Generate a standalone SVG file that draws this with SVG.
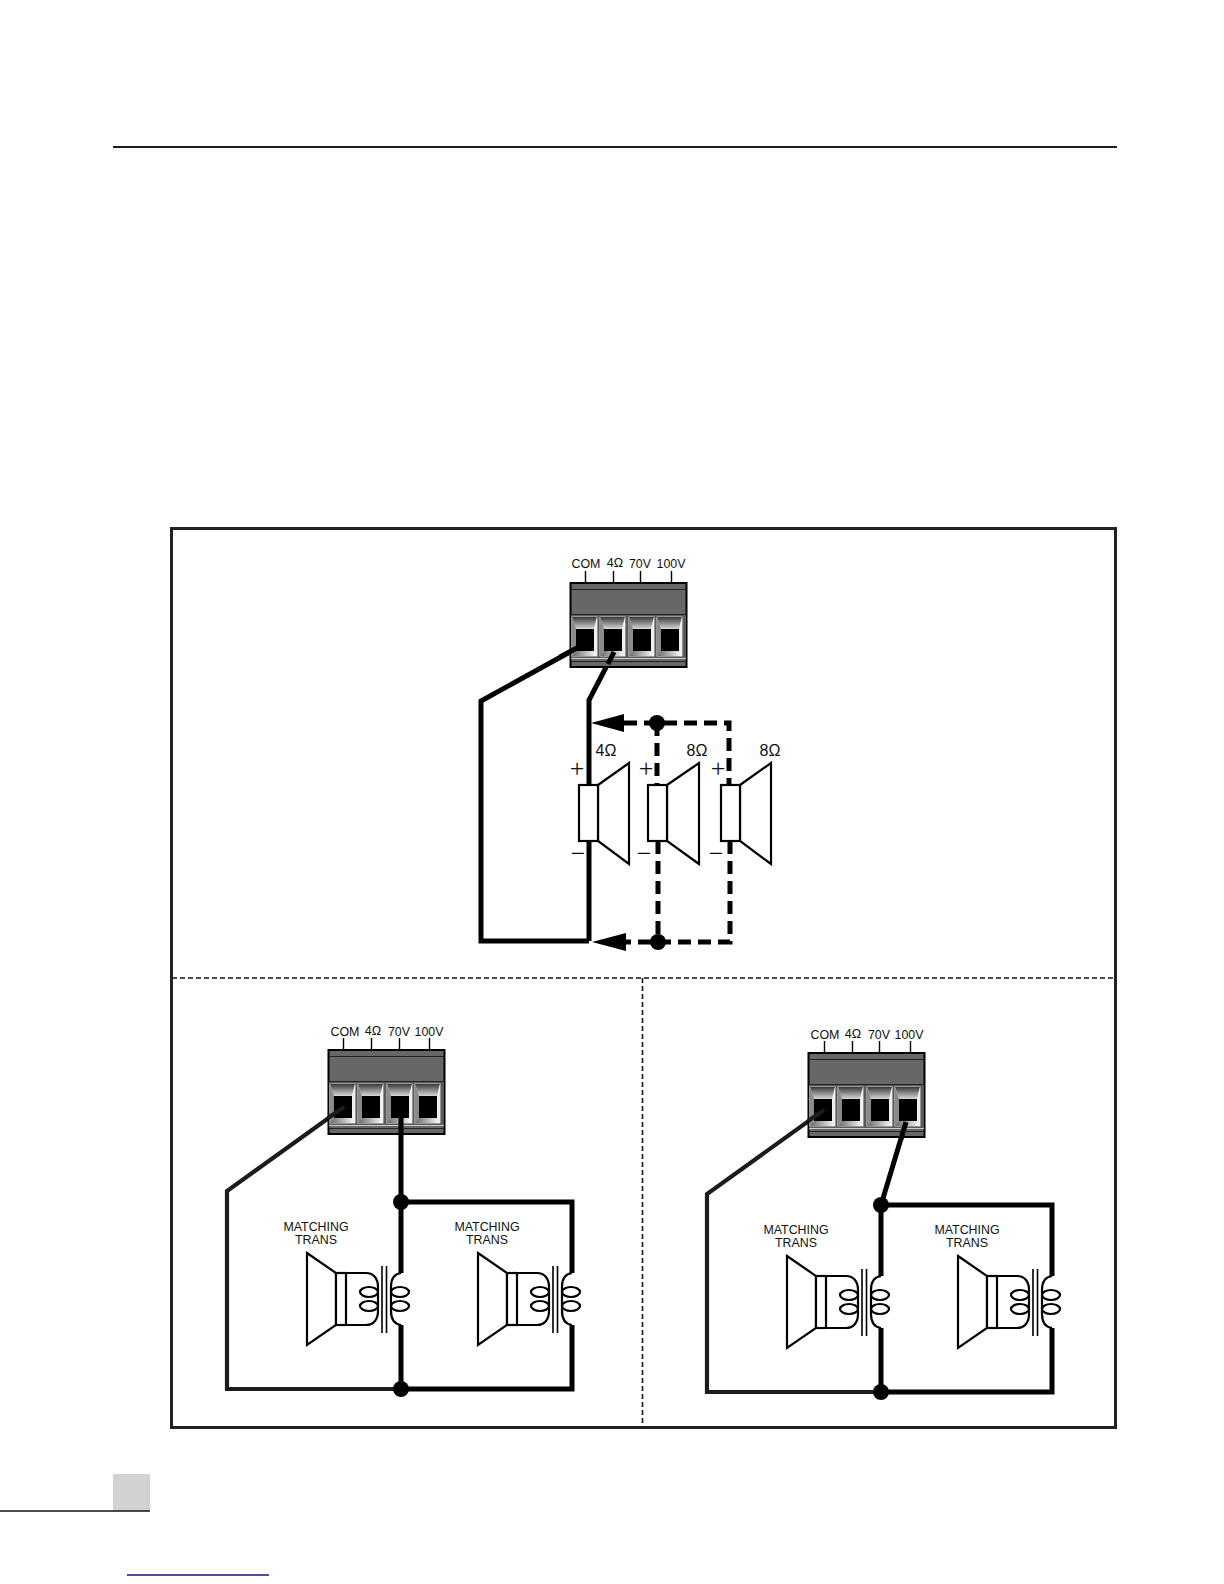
<svg xmlns="http://www.w3.org/2000/svg" width="1224" height="1584" viewBox="0 0 1224 1584">
<style>
text{font-family:"Liberation Sans",Arial,sans-serif;fill:#111;text-anchor:middle}
.t{font-size:12.4px}.o{font-size:12.5px}.r{font-size:16px}.m{font-size:12.4px}
.s{font-family:"Liberation Serif","Times New Roman",serif;font-size:26px}
.w{fill:none;stroke:#000;stroke-width:5;stroke-linejoin:miter}
.w2{fill:none;stroke:#1c1c1c;stroke-width:4.2}
.d{fill:none;stroke:#000;stroke-width:5;stroke-dasharray:13 7}
.l{fill:none;stroke:#000;stroke-width:1.4}
.k{fill:#fff;stroke:#000;stroke-width:2.2}
.c{fill:none;stroke:#000;stroke-width:2.2}
.div{fill:none;stroke:#111;stroke-width:1.6;stroke-dasharray:5 3}
</style>
<defs>
<linearGradient id="g1" x1="0" y1="0" x2="0" y2="1"><stop offset="0" stop-color="#3a3a3a"/><stop offset="1" stop-color="#d8d8d8"/></linearGradient>
<linearGradient id="g2" x1="0" y1="0" x2="1" y2="0"><stop offset="0" stop-color="#666"/><stop offset="1" stop-color="#fff"/></linearGradient>
<g id="sock">
<rect x="0" y="0" width="25" height="39" fill="#ccc" stroke="#cfcfcf" stroke-width="1"/>
<polygon points="0,0 25,0 22,12 4,12" fill="url(#g1)"/>
<polygon points="0,0 4,12 4,34 0,39" fill="#8a8a8a"/>
<polygon points="25,0 22,12 22,34 25,39" fill="#f0f0f0"/>
<polygon points="0,39 4,34 22,34 25,39" fill="url(#g2)"/>
<rect x="4" y="12" width="18" height="22" fill="#000"/>
</g>
<g id="block">
<rect x="0.500" y="1" width="116" height="84" fill="#676767" stroke="#000" stroke-width="2"/>
<path d="M1 7.500H116M1 32.500H116" stroke="#222" stroke-width="1.2" fill="none"/>
<rect x="1" y="33" width="115" height="43" fill="#5a5a5a"/>
<path d="M1 76.500H116" stroke="#ccc" stroke-width="1"/><path d="M1 79.500H116" stroke="#222" stroke-width="1"/>
<use href="#sock" x="2" y="35"/><use href="#sock" x="30" y="35"/><use href="#sock" x="59" y="35"/><use href="#sock" x="87" y="35"/>
</g>
<g id="xfmr">
<path class="k" d="M307 1253L336 1273V1325L307 1345Z"/>
<rect class="k" x="336" y="1273" width="10" height="52"/>
<path class="c" d="M346 1273H366C374 1273 378 1279 378 1287V1311C378 1319 374 1325 366 1325H346"/>
<ellipse class="c" cx="369" cy="1292" rx="9" ry="5"/><ellipse class="c" cx="369" cy="1306" rx="9" ry="5"/>
<path class="c" d="M401 1273C394 1274 391 1279 391 1287V1311C391 1319 394 1324 401 1325"/>
<ellipse class="c" cx="400" cy="1292" rx="9" ry="5"/><ellipse class="c" cx="400" cy="1306" rx="9" ry="5"/>
<path d="M382 1266V1333M386.500 1266V1333" stroke="#000" stroke-width="1.6" fill="none"/>
</g>
</defs>

<g id="page">
<path d="M113 147H1117" stroke="#1c1c1c" stroke-width="2" fill="none"/>
<rect x="113" y="1474" width="37" height="37" fill="#d2d2d2"/>
<path d="M0 1511H150" stroke="#111" stroke-width="1.5" fill="none"/>
<path d="M127 1575H269" stroke="#141480" stroke-width="1.5" fill="none"/>
<rect x="171.500" y="528.500" width="944" height="899" fill="none" stroke="#222" stroke-width="3"/>
<path class="div" d="M172 978H1115M642.500 978V1427"/>
</g>

<g id="connectors">
<path class="w" d="M577 648L481 701V941H589"/>
<path class="w" d="M614 652L589 700V941"/>
<path class="d" d="M624 723H729V785"/>
<path class="d" d="M657 723V785"/>
<path class="d" d="M658 841V942M730 841V942H626"/>
<path d="M591 723L624 714V732Z"/>
<path d="M592 942L626 933V951Z"/>
<path class="w2" d="M344 1107L227 1191V1389H401"/>
<path class="w" d="M401 1118V1273M401 1325V1389H572V1325M572 1273V1202H401"/>
<path class="w2" d="M824 1110L707 1194V1392H881"/>
<path class="w" d="M906 1122L881 1205V1276M881 1328V1392H1052V1328M1052 1276V1205H881"/>
</g>

<g id="terminal-top">
<use href="#block" x="570" y="582"/>
<path class="l" d="M585.500 571V582M613.500 571V582M640.500 571V582M671.500 571V582"/>
<text class="t" x="586" y="568">COM</text><text class="o" x="615" y="567">4Ω</text><text class="t" x="640" y="568">70V</text><text class="t" x="671" y="568">100V</text>
</g>
<g id="wires-top-over"><path class="w" d="M577 648L560 657M614 652L608 664"/></g>

<g id="speaker-4ohm">
<path class="k" d="M598 785L629 763V864L598 841Z"/><rect class="k" x="579" y="785" width="19" height="56"/>
<text class="r" x="606" y="756">4Ω</text>
<text class="s" x="577" y="777">+</text><text class="s" x="578" y="862">−</text>
</g>
<g id="speaker-8ohm-a">
<path class="k" d="M667 785L699 763V864L667 841Z"/><rect class="k" x="648" y="785" width="19" height="56"/>
<text class="r" x="697" y="756">8Ω</text>
<text class="s" x="646" y="777">+</text><text class="s" x="644" y="862">−</text>
</g>
<g id="speaker-8ohm-b">
<path class="k" d="M740 785L771 763V864L740 841Z"/><rect class="k" x="721" y="785" width="19" height="56"/>
<text class="r" x="770" y="756">8Ω</text>
<text class="s" x="718" y="777">+</text><text class="s" x="716" y="862">−</text>
</g>
<g id="junctions-top"><circle cx="657" cy="723" r="8"/><circle cx="658" cy="942" r="8"/></g>

<g id="terminal-left">
<use href="#block" x="328" y="1049"/>
<path class="l" d="M343.500 1038V1049M371.500 1038V1049M399.500 1038V1049M429.500 1038V1049"/>
<text class="t" x="345" y="1036">COM</text><text class="o" x="373" y="1035">4Ω</text><text class="t" x="399" y="1036">70V</text><text class="t" x="429" y="1036">100V</text>
</g>
<g id="wires-left-over"><path class="w2" d="M344 1107L328 1118"/><path class="w" d="M401 1118V1135"/></g>
<g id="xfmr-l1"><use href="#xfmr"/><text class="m" x="316" y="1231">MATCHING</text><text class="m" x="316" y="1244">TRANS</text></g>
<g id="xfmr-l2"><use href="#xfmr" x="171"/><text class="m" x="487" y="1231">MATCHING</text><text class="m" x="487" y="1244">TRANS</text></g>
<g id="junctions-left"><circle cx="401" cy="1202" r="8"/><circle cx="401" cy="1389" r="8"/></g>

<g id="terminal-right">
<use href="#block" x="808" y="1052"/>
<path class="l" d="M824.500 1041V1052M852.500 1041V1052M879.500 1041V1052M910.500 1041V1052"/>
<text class="t" x="825" y="1039">COM</text><text class="o" x="853" y="1038">4Ω</text><text class="t" x="879" y="1039">70V</text><text class="t" x="909" y="1039">100V</text>
</g>
<g id="wires-right-over"><path class="w2" d="M824 1110L808 1121"/><path class="w" d="M906 1122L901 1139"/></g>
<g id="xfmr-r1" transform="translate(480 3)"><use href="#xfmr"/><text class="m" x="316" y="1231">MATCHING</text><text class="m" x="316" y="1244">TRANS</text></g>
<g id="xfmr-r2" transform="translate(480 3)"><use href="#xfmr" x="171"/><text class="m" x="487" y="1231">MATCHING</text><text class="m" x="487" y="1244">TRANS</text></g>
<g id="junctions-right"><circle cx="881" cy="1205" r="8"/><circle cx="881" cy="1392" r="8"/></g>
</svg>
